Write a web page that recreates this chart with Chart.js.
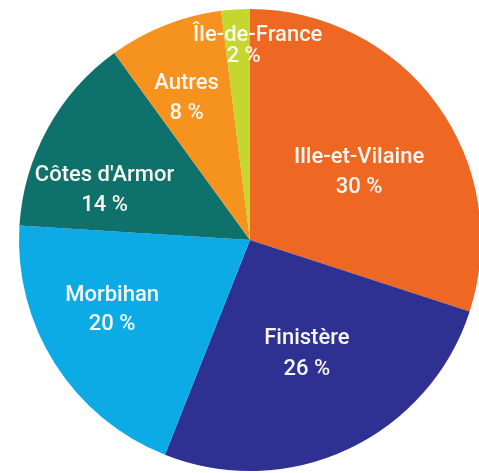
<!DOCTYPE html>
<html lang="fr">
<head>
<meta charset="utf-8">
<script src="https://cdn.jsdelivr.net/npm/chart.js@4/dist/chart.umd.min.js"></script>
<style>
  html, body { margin: 0; padding: 0; background: #ffffff; overflow: hidden; }
  #wrap { position: absolute; left: 0; top: 0; width: 500px; height: 473px; }
</style>
</head>
<body>
<div id="wrap"><canvas id="chart"></canvas></div>
<script>
// Répartition par origine (en %)
const categories = ['Ille-et-Vilaine', 'Finistère', 'Morbihan', "Côtes d'Armor", 'Autres', 'Île-de-France'];
const shares = [30, 26, 20, 14, 8, 2];
const sliceColors = ['#ee6723', '#2e3192', '#0cabe6', '#0f716c', '#f6921e', '#c5d62f'];

// Label placement inside each slice: radius fraction, position along the arc (0..1),
// gap between the two lines, and horizontal nudges for the name / value lines
const labelRadius = [0.555, 0.55, 0.67, 0.665, 0.67, 0.84];
const labelAlong  = [0.54, 0.485, 0.575, 0.30, 0.41, 1.03];
const labelGap    = [30, 31, 29, 30, 30, 21];
const nameNudge   = [0, 0, 0, 0, 0, 7];
const valueNudge  = [0, 0, 0, 0, 0, -7];

const sliceLabels = {
  id: 'sliceLabels',
  afterDatasetsDraw(chart) {
    const { ctx } = chart;
    const meta = chart.getDatasetMeta(0);
    ctx.save();
    ctx.fillStyle = '#f7f7f2';
    ctx.font = '500 22px Roboto, "DejaVu Sans", sans-serif';
    ctx.textAlign = 'center';
    ctx.textBaseline = 'middle';
    meta.data.forEach((arc, i) => {
      const p = arc.getProps(['x', 'y', 'startAngle', 'endAngle', 'outerRadius'], true);
      const a = p.startAngle + (p.endAngle - p.startAngle) * labelAlong[i];
      const r = p.outerRadius * labelRadius[i];
      const cx = p.x + Math.cos(a) * r;
      const cy = p.y + Math.sin(a) * r;
      const half = labelGap[i] / 2;
      ctx.fillText(categories[i], cx + nameNudge[i], cy - half);
      ctx.fillText(shares[i] + ' %', cx + valueNudge[i], cy + half);
    });
    ctx.restore();
  }
};

new Chart(document.getElementById('chart'), {
  type: 'pie',
  data: {
    labels: categories,
    datasets: [{
      data: shares,
      backgroundColor: sliceColors,
      borderWidth: 0
    }]
  },
  options: {
    responsive: true,
    maintainAspectRatio: false,
    animation: false,
    layout: { padding: { left: 19, right: 19, top: 9, bottom: 2 } },
    plugins: {
      legend: { display: false },
      tooltip: { enabled: false }
    }
  },
  plugins: [sliceLabels]
});
</script>
</body>
</html>
